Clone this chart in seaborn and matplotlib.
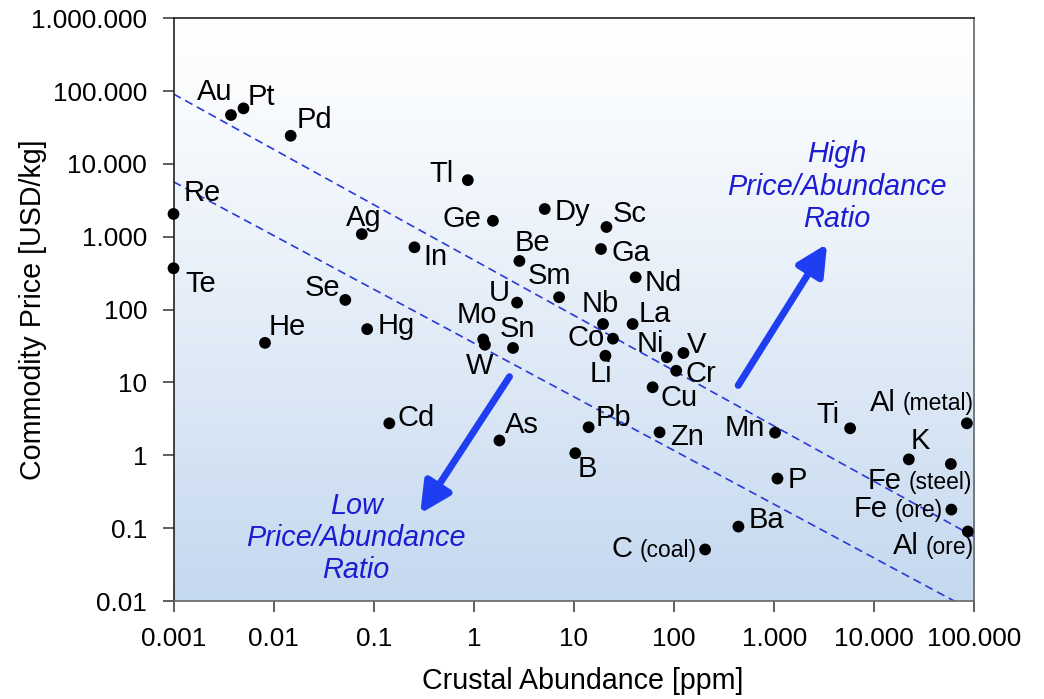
import numpy as np
import pandas as pd
import matplotlib
matplotlib.use("Agg")
import matplotlib.pyplot as plt
import seaborn as sns

# data (log-log)
elements = ["Au", "Pt", "Pd", "Re", "Te", "Tl", "Ge", "Ag", "In", "Se", "Hg", "He",
            "Mo", "W", "U", "Sn", "Dy", "Sc", "Ga", "Be", "Sm", "Nd", "Nb", "La",
            "Co", "Li", "Ni", "V", "Cr", "Cu", "Cd", "As", "Pb", "B", "Zn", "Mn",
            "Ti", "P", "Ba", "K",
            "C", "Al", "Fe", "Fe", "Al"]
notes = [""] * 40 + ["(coal)", "(metal)", "(steel)", "(ore)", "(ore)"]
abundance = [0.00375, 0.005, 0.0148, 0.001, 0.001, 0.87, 1.55, 0.076, 0.255, 0.052, 0.086, 0.0082,
             1.24, 1.29, 2.7, 2.46, 5.1, 21.1, 18.6, 2.85, 7.1, 41.3, 19.5, 38.5,
             24.5, 20.6, 84.5, 124, 105, 61, 0.143, 1.8, 14, 10.3, 71.6, 1020,
             5730, 1077, 439, 22100,
             204, 84000, 58100, 58800, 85900]
price = [47000, 58000, 24400, 2060, 370, 6000, 1660, 1090, 718, 136, 54, 35,
         39, 33, 125, 29.8, 2410, 1364, 680, 466, 148, 278, 63.5, 63.5,
         40, 23.3, 22.2, 25.4, 14.5, 8.6, 2.75, 1.6, 2.43, 1.07, 2.07, 2.05,
         2.35, 0.48, 0.105, 0.88,
         0.051, 2.75, 0.76, 0.18, 0.09]

# dashed guide lines (end points)
upper_x = [0.001, 100000]
upper_y = [91400, 0.076]
lower_x = [0.001, 62700]
lower_y = [5700, 0.01]

xticks = [0.001, 0.01, 0.1, 1, 10, 100, 1000, 10000, 100000]
xticklabels = ["0.001", "0.01", "0.1", "1", "10", "100", "1.000", "10.000", "100.000"]
yticks = [0.01, 0.1, 1, 10, 100, 1000, 10000, 100000, 1000000]
yticklabels = ["0.01", "0.1", "1", "10", "100", "1.000", "10.000", "100.000", "1.000.000"]

# label offsets in points (label centre relative to dot)
offsets = [(-11.5, 16.8), (13, 8), (17, 11.5), (21, 15), (19.5, -11), (-19, 4.5), (-22, 1.5),
           (1.5, 11.5), (15, -7), (-16.5, 8.5), (21, 2), (16, 11.5),
           (-4.8, 17.5), (-3.8, -15.6), (-13, 7), (3.5, 13.5), (20, -2.5), (16.5, 9.5),
           (21.5, -3), (9.5, 13), (-7, 15), (20, -4), (-2, 14.5), (16, 7),
           (-19.5, 0.5), (-3, -13), (-12, 9.5), (9.5, 6), (18, -2), (19, -8),
           (19, 3.5), (16.5, 11), (18, 6.5), (8.5, -11.5), (20, -3.5), (-21.5, 3),
           (-16, 9.5), (14.5, -1), (20, 5), (8, 13),
           (-6, 2.4), (4.8, 16.8), (15, -10.3), (-6, 1.9), (4.5, -8.4)]

df = pd.DataFrame({"abundance": abundance, "price": price})

sns.set_style("white")
plt.rcParams["font.family"] = ["Liberation Sans", "DejaVu Sans"]
plt.rcParams["text.color"] = "black"
plt.rcParams["axes.labelcolor"] = "black"
plt.rcParams["xtick.color"] = "black"
plt.rcParams["ytick.color"] = "black"

fig = plt.figure(figsize=(10.44, 6.99), dpi=100)
rect = [0.1662, 0.1402, 0.7672, 0.8336]

# gradient background behind the plot area
bg = fig.add_axes(rect, zorder=0)
t = np.linspace(0, 1, 256)[:, None] ** 1.15
top = np.array([1.0, 1.0, 1.0])
bottom = np.array([196, 216, 239]) / 255
grad = (top * (1 - t) + bottom * t)[:, None, :]
bg.imshow(grad, aspect="auto", extent=[0, 1, 0, 1], origin="upper")
bg.axis("off")

ax = fig.add_axes(rect, zorder=1)
ax.set_facecolor("none")
ax.set_xscale("log")
ax.set_yscale("log")
ax.set_xlim(0.001, 100000)
ax.set_ylim(0.01, 1000000)

ax.plot(upper_x, upper_y, color="#2a3ad6", lw=1.2, ls=(0, (5, 3)), zorder=2)
ax.plot(lower_x, lower_y, color="#2a3ad6", lw=1.2, ls=(0, (5, 3)), zorder=2)

sns.scatterplot(data=df, x="abundance", y="price", color="black", s=72,
                edgecolor="none", ax=ax, zorder=5, clip_on=False)

for name, note, x, y, (dx, dy) in zip(elements, notes, abundance, price, offsets):
    if note == "":
        ax.annotate(name, (x, y), xytext=(dx, dy), textcoords="offset points",
                    ha="center", va="center", fontsize=21, zorder=6)
    else:
        small = ax.annotate(note, (x, y), xytext=(dx, dy - 7.5), textcoords="offset points",
                            ha="right", va="baseline", fontsize=16.5, zorder=6)
        ax.annotate(name, (0, 0), xycoords=small, xytext=(-5, -0.8),
                    textcoords="offset points", ha="right", va="bottom",
                    fontsize=21, zorder=6)

arrow_col = "#1f3ef2"
text_col = "#1c1cd2"
ax.annotate("", xy=(0.816, 0.613), xytext=(0.705, 0.370), xycoords="axes fraction",
            arrowprops=dict(arrowstyle="-|>", lw=5, color=arrow_col, mutation_scale=46,
                            shrinkA=0, shrinkB=0))
ax.annotate("", xy=(0.308, 0.150), xytext=(0.4195, 0.385), xycoords="axes fraction",
            arrowprops=dict(arrowstyle="-|>", lw=5, color=arrow_col, mutation_scale=46,
                            shrinkA=0, shrinkB=0))
ax.text(0.828, 0.711, "High\nPrice/Abundance\nRatio", transform=ax.transAxes,
        ha="center", va="center", fontsize=20.8, style="italic", color=text_col,
        linespacing=1.2)
ax.text(0.228, 0.108, "Low\nPrice/Abundance\nRatio", transform=ax.transAxes,
        ha="center", va="center", fontsize=20.8, style="italic", color=text_col,
        linespacing=1.2)

ax.set_xticks(xticks)
ax.set_xticklabels(xticklabels)
ax.set_yticks(yticks)
ax.set_yticklabels(yticklabels)
ax.minorticks_off()
ax.tick_params(axis="both", which="major", direction="out", length=8, width=1.2,
               color="#444444", labelsize=18.8, pad=11, bottom=True, left=True)

for side in ["left", "top"]:
    ax.spines[side].set_color("#222222")
for side in ["bottom", "right"]:
    ax.spines[side].set_color("#666666")
for side in ax.spines:
    ax.spines[side].set_linewidth(1.2)

ax.set_xlabel("Crustal Abundance [ppm]", fontsize=20.6)
ax.set_ylabel("Commodity Price [USD/kg]", fontsize=20.6)
ax.xaxis.set_label_coords(0.511, -0.113)
ax.yaxis.set_label_coords(-0.158, 0.5)

fig.savefig("out.png", dpi=100)
